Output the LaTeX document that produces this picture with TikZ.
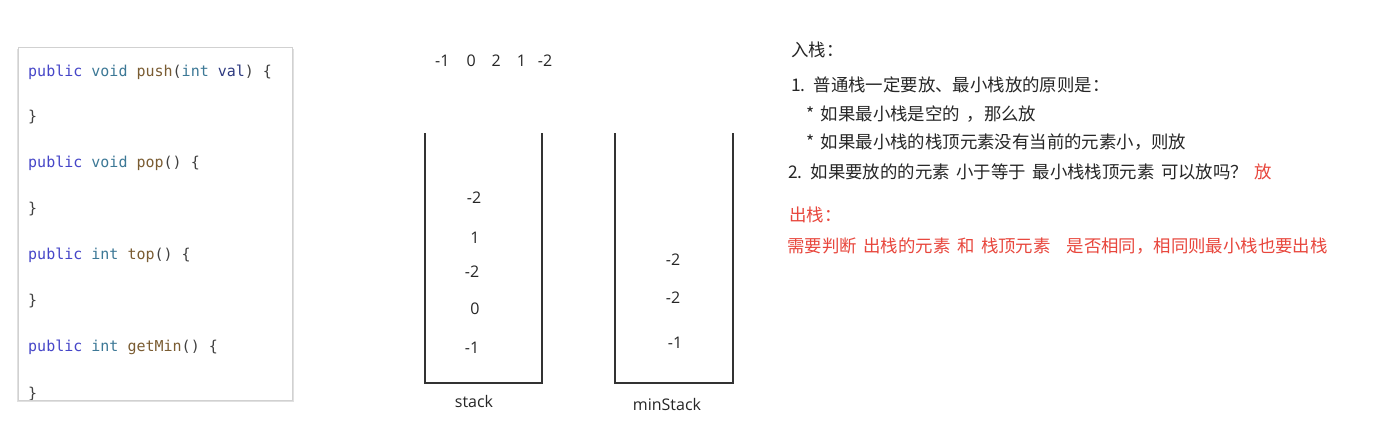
\documentclass[tikz,border=0pt]{standalone}
\usepackage{fontspec}
\setmainfont{Open Sans}
\newfontfamily\cjk{Noto Sans CJK SC}[WordSpace=1.7]
\newfontfamily\codefont{DejaVu Sans Mono}
\definecolor{kw}{HTML}{4646C8}
\definecolor{ty}{HTML}{3C7896}
\definecolor{fn}{HTML}{7A5C32}
\definecolor{pu}{HTML}{404040}
\definecolor{vr}{HTML}{2E3A80}
\definecolor{txt}{HTML}{262626}
\definecolor{redtxt}{HTML}{E8463C}
\begin{document}
\begin{tikzpicture}[x=1pt,y=-1pt,
  code/.style={anchor=west,inner sep=0pt,font=\codefont\fontsize{15}{18}\selectfont,text=pu},
  num/.style={inner sep=0pt,font=\fontsize{16}{19}\selectfont,text=txt},
  cn/.style={anchor=west,inner sep=0pt,font=\cjk\fontsize{17.4}{20}\selectfont,text=txt},
  wall/.style={draw=black!80,line width=1.6pt}]
\useasboundingbox (0,0) rectangle (1386,426);
\fill[white] (0,0) rectangle (1386,426);
% code box
\fill[black!12] (17,48.5) rectangle (293.5,402);
\draw[black!18,fill=white,line width=1pt] (18,47) rectangle (292,400);
\begin{scope}
\clip (18.5,47.5) rectangle (291.5,399.5);
\node[code] (c1) at (28,72) {\textcolor{kw}{public} \textcolor{ty}{void} \textcolor{fn}{push}(\textcolor{ty}{int} \textcolor{vr}{val}) \{};
\node[code] (c2) at (28,117) {\}};
\node[code] (c3) at (28,163) {\textcolor{kw}{public} \textcolor{ty}{void} \textcolor{fn}{pop}() \{};
\node[code] (c4) at (28,209) {\}};
\node[code] (c5) at (28,255) {\textcolor{kw}{public} \textcolor{ty}{int} \textcolor{fn}{top}() \{};
\node[code] (c6) at (28,301) {\}};
\node[code] (c7) at (28,347) {\textcolor{kw}{public} \textcolor{ty}{int} \textcolor{fn}{getMin}() \{};
\node[code] (c8) at (28,394) {\}};
\end{scope}
% input sequence
\node[num,anchor=west] (seq) at (435,61) {-1\hspace{17pt}0\hspace{16pt}2\hspace{16pt}1\hspace{12pt}-2};
% stack
\draw[wall] (425,133) -- (425,383) -- (542,383) -- (542,133);
\node[num] (s1) at (474,198) {-2};
\node[num] (s2) at (475,238) {1};
\node[num] (s3) at (472,272) {-2};
\node[num] (s4) at (475,309) {0};
\node[num] (s5) at (472,348) {-1};
\node[num] (slab) at (474,401) {stack};
% min stack
\draw[wall] (615,133) -- (615,383) -- (733,383) -- (733,133);
\node[num] (m1) at (673,260) {-2};
\node[num] (m2) at (673,298) {-2};
\node[num] (m3) at (675,343) {-1};
\node[num] (mlab) at (667,404) {minStack};
% rules
\node[cn] (t1) at (791,50) {入栈：};
\node[cn] (t2) at (791,85) {1. 普通栈一定要放、最小栈放的原则是：};
\node[cn] (t3) at (806,114) {* 如果最小栈是空的 ，那么放};
\node[cn] (t4) at (806,142) {* 如果最小栈的栈顶元素没有当前的元素小，则放};
\node[cn] (t5) at (788,172) {2.\hspace{8pt}如果要放的的元素 小于等于 最小栈栈顶元素 可以放吗？ \textcolor{redtxt}{放}};
\node[cn,text=redtxt] (t6) at (789,215) {出栈：};
\node[cn,text=redtxt] (t7) at (787,246) {需要判断 出栈的元素 和 栈顶元素\hspace{16pt}是否相同，相同则最小栈也要出栈};
\end{tikzpicture}
\end{document}
